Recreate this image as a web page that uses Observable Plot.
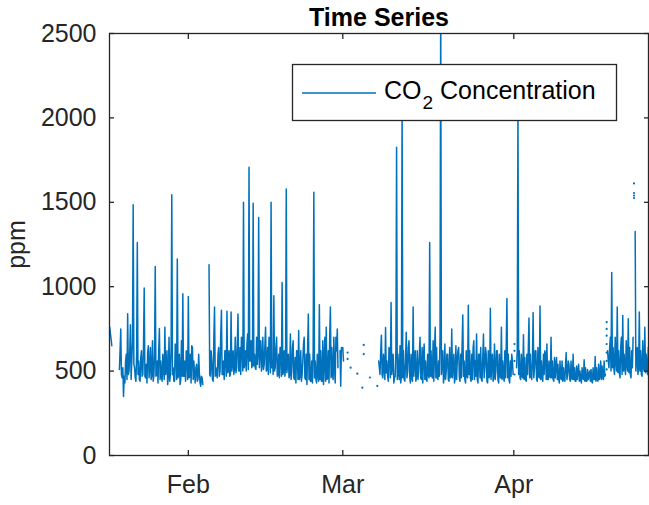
<!DOCTYPE html>
<html><head><meta charset="utf-8">
<script src="https://cdn.jsdelivr.net/npm/d3@7"></script>
<script src="https://cdn.jsdelivr.net/npm/@observablehq/plot@0.6"></script>
<style>
html,body{margin:0;padding:0;background:#fff;}
</style>
</head><body><div id="chart"></div>
<script>
// ---- text ----
const chartTitle = "Time Series";
const yLabel = "ppm";
const legendParts = ["CO", "2", " Concentration"];

// ---- axes ----
const yTicks = [0, 500, 1000, 1500, 2000, 2500];
const monthTicks = ["2019-02-01T00:00Z", "2019-03-01T00:00Z", "2019-04-01T00:00Z"];
const monthLabels = ["Feb", "Mar", "Apr"];
const xDomain = ["2019-01-17T17:00Z", "2019-04-25T10:00Z"];

// ---- CO2 readings every 3 hours (00,03,...,21 h); one row per day; null = missing ----
const janStart = "2019-01-17T18:00Z";
const co2Jan = [
  760, 720,
  690, 650, null, null, null, null, null, null,
  null, null, null, null, 510, 620, 750, 480,
  460, 520, 350, 470, 430, 560, 600, 450,
  840, 480, 500, 620, 775, 450, 560, 680,
  1485, 540, 520, 460, 440, 600, 1262, 480,
  560, 450, 440, 580, 620, 470, 480, 650,
  993, 470, 460, 540, 430, 610, 650, 460,
  520, 640, 450, 480, 680, 440, 470, 600,
  1120, 470, 480, 560, 430, 620, 752, 450,
  560, 470, 440, 600, 520, 450, 760, 480,
  500, 620, 420, 470, 700, 440, 480, 640,
  1545, 480, 520, 440, 440, 660, 620, 450,
  1164, 460, 480, 600, 420, 450, 680, 470,
  958, 470, 470, 560, 440, 620, 600, 450];

const febStart = "2019-02-01T00:00Z";
const co2Feb = [
  942, 460, 470, 600, 430, 650, 640, 450,
  560, 480, 430, 520, 540, 440, 450, 600,
  490, 430, 410, 470, 460, 420, null, null,
  null, null, null, null, null, null, 1130, 480,
  470, 620, 560, 450, 440, 700, 880, 470,
  520, 480, 460, 600, 640, 470, 500, 720,
  860, 480, 480, 560, 450, 620, 620, 470,
  855, 490, 500, 620, 470, 480, 850, 500,
  540, 620, 480, 520, 700, 490, 520, 660,
  838, 500, 500, 640, 480, 700, 680, 500,
  1500, 520, 540, 620, 500, 660, 720, 510,
  1707, 560, 560, 680, 520, 540, 1494, 530,
  600, 520, 510, 700, 540, 600, 1410, 520,
  620, 680, 500, 540, 700, 510, 540, 650,
  760, 500, 510, 640, 480, 700, 660, 490,
  1500, 520, 560, 480, 946, 500, 520, 640,
  700, 470, 480, 600, 460, 640, 640, 470,
  1025, 480, 500, 620, 470, 520, 1579, 490,
  560, 600, 460, 480, 720, 450, 500, 640,
  680, 460, 450, 580, 430, 620, 620, 450,
  740, 450, 470, 620, 440, 480, 560, 660,
  700, 460, 450, 600, 420, 640, 838, 450,
  600, 440, 440, 560, 430, 620, 1559, 460,
  560, 450, 430, 600, 470, 440, 893, 450,
  620, 440, 440, 680, 420, 560, 700, 440,
  760, 450, 460, 620, 430, 700, 880, 460,
  640, 480, 450, 700, 520, 430, 700, 620,
  750, 520, null, null, 620, 410, 640, null];

const marStart = "2019-03-01T00:00Z";
const co2Mar = [
  640, 560, null, null, null, null, null, null,
  null, null, null, null, null, null, null, null,
  null, null, null, null, null, null, null, null,
  null, null, null, null, null, null, null, null,
  null, null, null, null, null, null, null, null,
  null, null, null, null, null, null, null, null,
  null, null, null, null, 560, 520, 480, 620,
  713, 480, 460, 600, 520, 450, 758, 490,
  560, 470, 440, 640, 620, 460, 906, 480,
  540, 600, 430, 460, 470, 620, 1826, 450,
  600, 480, 450, 650, 430, 470, 2080, 460,
  620, 450, 440, 560, 730, 460, 500, 640,
  680, 470, 430, 600, 460, 440, 880, 470,
  560, 620, 440, 470, 620, 450, 500, 600,
  700, 460, 450, 640, 430, 600, 660, 450,
  560, 450, 440, 600, 480, 460, 1262, 470,
  620, 470, 460, 680, 440, 620, 760, 460,
  640, 460, 450, 560, 470, 700, 2700, 480,
  560, 620, 430, 470, 660, 450, 500, 600,
  600, 450, 440, 640, 460, 470, 750, 460,
  520, 600, 430, 460, 650, 450, 560, 620,
  640, 460, 440, 600, 460, 650, 833, 470,
  560, 450, 430, 620, 470, 460, 890, 480,
  620, 460, 440, 600, 450, 640, 680, 450,
  560, 470, 720, 450, 430, 600, 600, 460,
  640, 450, 440, 580, 720, 460, 520, 640,
  600, 440, 430, 620, 460, 470, 873, 450,
  560, 600, 440, 470, 660, 450, 500, 620,
  620, 450, 430, 600, 470, 460, 760, 450,
  560, 470, 440, 620, 460, 640, 930, 460,
  600, 450, 430, 560, 470, 600, 560, 480];

const aprStart = "2019-04-01T00:00Z";
const co2Apr = [
  null, null, null, null, 520, 620, 2050, 480,
  620, 460, 450, 600, 470, 460, 716, 450,
  580, 450, 440, 600, 480, 620, 814, 460,
  600, 470, 450, 560, 847, 460, 520, 620,
  620, 450, 440, 640, 470, 460, 886, 450,
  560, 460, 440, 600, 480, 620, 600, 450,
  660, 450, 450, 560, 470, 460, 700, 460,
  560, 450, 440, 580, 460, 540, 580, 450,
  540, 450, 430, 560, 460, 450, 560, 440,
  520, 450, 440, 540, 610, 450, 480, 560,
  540, 450, 440, 560, 460, 450, 600, 450,
  520, 440, 440, 530, 450, 500, 540, 440,
  500, 450, 430, 520, 460, 450, 567, 440,
  520, 440, 440, 510, 450, 480, 500, 440,
  510, 440, 430, 520, 450, 450, 587, 440,
  520, 450, 440, 540, 450, 470, 560, 450,
  530, 460, 450, 560, 470, 480, null, null,
  620, 560, 520, 640, 700, 500, 1084, 520,
  640, 520, 480, 700, 560, 500, 880, 490,
  620, 500, 460, 640, 700, 480, 830, 500,
  600, 520, 480, 680, 540, 500, 810, 490,
  640, 480, 460, 620, 520, 700, null, null,
  1327, 500, 560, 640, 480, 520, 850, 500,
  620, 480, 470, 680, 520, 500, 760, 490,
  600, 520, 480, 640, 560];

// ---- scattered isolated readings inside gaps ----
const scatterTimes = [
  "2019-03-01T21:00Z", "2019-03-01T21:00Z", "2019-03-02T10:00Z", "2019-03-03T15:00Z",
  "2019-03-04T13:00Z", "2019-03-04T19:00Z", "2019-03-04T19:00Z", "2019-03-05T22:00Z",
  "2019-03-07T06:00Z",
  "2019-04-01T03:00Z", "2019-04-01T03:00Z", "2019-04-01T03:00Z", "2019-04-01T03:00Z",
  "2019-04-17T20:00Z", "2019-04-17T20:00Z", "2019-04-17T20:00Z", "2019-04-17T20:00Z",
  "2019-04-17T20:00Z", "2019-04-17T20:00Z", "2019-04-17T20:00Z",
  "2019-04-22T19:00Z", "2019-04-22T19:00Z", "2019-04-22T19:00Z", "2019-04-22T19:00Z"];
const scatterValues = [
  610, 572, 520, 485,
  402, 655, 600, 462,
  412,
  480, 560, 620, 660,
  790, 750, 710, 660,
  610, 560, 510,
  1525, 1540, 1555, 1612];

// ---- build ----
const stepMs = 3 * 3600e3;
function toRows(start, values) {
  const t0 = new Date(start).getTime();
  return values.map((v, i) => ({date: new Date(t0 + i * stepMs), value: v}));
}
const rows = [
  ...toRows(janStart, co2Jan),
  ...toRows(febStart, co2Feb),
  ...toRows(marStart, co2Mar),
  ...toRows(aprStart, co2Apr)
];
const dots = scatterTimes.map((t, i) => ({date: new Date(t), value: scatterValues[i]}));
const monthDates = monthTicks.map(d => new Date(d));
const monthLabel = d => monthLabels[monthDates.findIndex(m => +m === +d)];

const lineColor = "#0072BD";
const axisColor = "#262626";
const font = "'Liberation Sans', Arial, Helvetica, sans-serif";

const plot = Plot.plot({
  width: 649,
  height: 505,
  marginTop: 33,
  marginBottom: 50,
  marginLeft: 109,
  marginRight: 1,
  style: {fontFamily: font, background: "#fff"},
  x: {type: "utc", domain: xDomain.map(d => new Date(d))},
  y: {domain: [0, 2500], nice: false},
  marks: [
    Plot.lineY(rows, {x: "date", y: "value", stroke: lineColor, strokeWidth: 1.5, clip: true}),
    Plot.dot(dots, {x: "date", y: "value", r: 1.1, fill: lineColor, stroke: null, clip: true}),
    Plot.frame({stroke: axisColor, strokeWidth: 1.3}),
    // inward ticks
    Plot.axisX(monthDates, {anchor: "bottom", tickSize: 5, dy: -5, tickFormat: () => "", label: null, stroke: axisColor, strokeWidth: 1.3}),
    Plot.axisX(monthDates, {anchor: "top", tickSize: 5, dy: 5, tickFormat: () => "", label: null, stroke: axisColor, strokeWidth: 1.3}),
    Plot.axisY(yTicks, {anchor: "left", tickSize: 5, dx: 5, tickFormat: () => "", label: null, stroke: axisColor, strokeWidth: 1.3}),
    Plot.axisY(yTicks, {anchor: "right", tickSize: 5, dx: -5, tickFormat: () => "", label: null, stroke: axisColor, strokeWidth: 1.3}),
    // tick labels
    Plot.axisX(monthDates, {anchor: "bottom", tickSize: 0, tickPadding: 20, fontSize: 25, tickFormat: monthLabel, label: null, fill: axisColor}),
    Plot.axisY(yTicks, {anchor: "left", tickSize: 0, tickPadding: 13, fontSize: 25, tickFormat: d => String(d), label: null, fill: axisColor}),
    // y label
    Plot.text([yLabel], {text: d => d, frameAnchor: "left", dx: -93, rotate: -90, fontSize: 25, fill: axisColor, textAnchor: "middle"}),
    // title
    Plot.text([chartTitle], {text: d => d, frameAnchor: "top", dy: -8, lineAnchor: "bottom", fontSize: 25, fontWeight: "bold", fill: "#000"})
  ]
});

// legend box
const svg = d3.select(plot);
const lg = svg.append("g").attr("class", "legend");
lg.append("rect").attr("x", 292.5).attr("y", 64.5).attr("width", 324).attr("height", 56)
  .attr("fill", "#fff").attr("stroke", axisColor).attr("stroke-width", 1.3);
lg.append("line").attr("x1", 302).attr("x2", 376).attr("y1", 93).attr("y2", 93)
  .attr("stroke", lineColor).attr("stroke-width", 1.6);
const lt = lg.append("text").attr("x", 384).attr("y", 99).attr("text-anchor", "start")
  .attr("font-family", font).attr("font-size", 25).attr("fill", "#000");
lt.append("tspan").text(legendParts[0]);
lt.append("tspan").attr("font-size", 19).attr("dy", 10).attr("dx", 1).text(legendParts[1]);
lt.append("tspan").attr("dy", -10).text(legendParts[2]);

document.getElementById("chart").appendChild(plot);
</script>
</body></html>
